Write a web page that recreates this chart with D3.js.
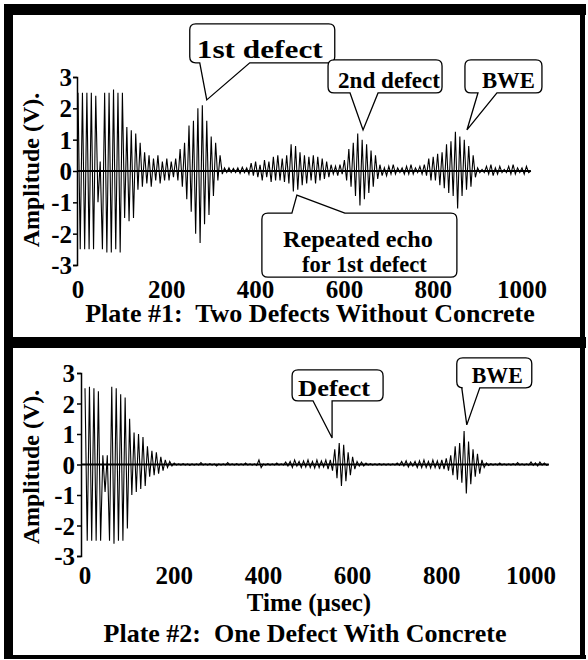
<!DOCTYPE html>
<html>
<head>
<meta charset="utf-8">
<script src="https://cdn.jsdelivr.net/npm/d3@7"></script>
<style>
body { margin: 0; background: #fff; }
text { font-family: "Liberation Serif", "Times New Roman", serif; font-weight: bold; fill: #000; white-space: pre; }
</style>
</head>
<body>
<svg id="chart" width="588" height="660"></svg>
<script>
const timeTicks = [0, 200, 400, 600, 800, 1000];
const ampTicks = [-3, -2, -1, 0, 1, 2, 3];
const sampleStep = 5; // usec between successive peaks

// peak amplitudes (V), one every 5 usec
const plate1Peaks = [
    2.5, -2.5, 2.5, -2.5, 2.5, -2.5, 2.5, -2.5, 2.4, -1.0,
    0.3, -2.5, 2.5, -2.6, 2.5, -2.6, 2.6, -2.5, 2.5, -2.6,
    2.5, -1.5, 1.4, -1.6, 1.3, -1.5, 1.2, -0.6, 0.9, -0.5,
    0.6, -0.4, 0.5, -0.5, 0.4, -0.3, 0.5, -0.4, 0.3, -0.3,
    0.4, -0.3, 0.3, -0.2, 0.4, -0.3, 0.7, -0.5, 0.9, -0.9,
    1.45, -1.3, 1.6, -2.0, 2.0, -2.3, 2.1, -1.7, 1.6, -1.4,
    1.1, -0.8, 0.9, -0.3, 0.5, -0.1, 0.1, -0.05, 0.1, -0.05,
    0.08, -0.05, 0.1, -0.08, 0.12, -0.05, 0.1, -0.1, 0.25, -0.15,
    0.3, -0.2, 0.2, -0.3, 0.35, -0.2, 0.3, -0.35, 0.45, -0.3,
    0.5, -0.3, 0.4, -0.35, 0.5, -0.4, 0.85, -0.65, 0.8, -0.6,
    0.6, -0.45, 0.5, -0.4, 0.45, -0.3, 0.5, -0.4, 0.45, -0.3,
    0.4, -0.25, 0.3, -0.2, 0.2, -0.1, 0.15, -0.15, 0.2, -0.1,
    0.35, -0.3, 0.7, -0.5, 0.9, -0.8, 1.2, -1.1, 1.0, -0.9,
    0.85, -0.7, 0.65, -0.5, 0.5, -0.25, 0.2, -0.15, 0.1, -0.15,
    0.15, -0.1, 0.2, -0.1, 0.1, -0.05, 0.1, -0.1, 0.15, -0.1,
    0.2, -0.1, 0.1, -0.05, 0.15, -0.1, 0.2, -0.15, 0.4, -0.3,
    0.45, -0.3, 0.55, -0.45, 0.6, -0.55, 0.85, -0.7, 0.95, -0.8,
    1.25, -1.2, 1.1, -0.8, 1.0, -0.6, 0.8, -0.5, 0.5, -0.2,
    0.1, -0.05, 0.05, -0.05, 0.15, -0.1, 0.2, -0.15, 0.1, -0.1,
    0.15, -0.05, 0.05, -0.05, 0.15, -0.1, 0.2, -0.1, 0.1, -0.05,
    0.1, -0.1, 0.15, -0.05, 0
];

const plate2Peaks = [
    2.5, -2.5, 2.55, -2.5, 2.5, -2.5, 2.4, -2.5, 0.3, -0.9,
    0.3, -2.5, 2.55, -2.6, 2.5, -2.5, 2.3, -2.5, 2.2, -2.1,
    1.5, -1.0, 1.05, -0.9, 1.0, -0.8, 0.9, -0.7, 0.6, -0.4,
    0.45, -0.35, 0.4, -0.3, 0.25, -0.2, 0.15, -0.1, 0.1, -0.05,
    0.05, -0.02, 0.02, -0.02, 0.03, -0.02, 0.02, -0.03, 0.02, -0.02,
    0.02, -0.02, 0.06, -0.02, 0.02, -0.02, 0.03, -0.02, 0.02, -0.05,
    0.02, -0.02, 0.02, -0.02, 0.06, -0.02, 0.02, -0.02, 0.03, -0.02,
    0.02, -0.02, 0.05, -0.02, 0.02, -0.02, 0.02, -0.03, 0.15, -0.1,
    0.02, -0.02, 0.03, -0.02, 0.02, -0.02, 0.05, -0.02, 0.02, -0.02,
    0.08, -0.05, 0.1, -0.1, 0.15, -0.05, 0.1, -0.1, 0.12, -0.08,
    0.15, -0.1, 0.1, -0.12, 0.15, -0.1, 0.12, -0.08, 0.15, -0.15,
    0.15, -0.2, 0.5, -0.45, 0.7, -0.7, 0.65, -0.55, 0.4, -0.35,
    0.25, -0.15, 0.1, -0.05, 0.08, -0.05, 0.05, -0.02, 0.03, -0.02,
    0.02, -0.02, 0.03, -0.02, 0.02, -0.02, 0.02, -0.02, 0.02, -0.02,
    0.05, -0.03, 0.1, -0.05, 0.12, -0.08, 0.08, -0.05, 0.1, -0.1,
    0.12, -0.1, 0.15, -0.1, 0.1, -0.12, 0.15, -0.1, 0.12, -0.15,
    0.15, -0.15, 0.2, -0.2, 0.3, -0.35, 0.6, -0.5, 0.7, -0.6,
    1.1, -0.95, 0.75, -0.65, 0.5, -0.4, 0.35, -0.3, 0.15, -0.1,
    0.05, -0.03, 0.03, -0.02, 0.02, -0.02, 0.05, -0.02, 0.02, -0.02,
    0.02, -0.02, 0.03, -0.02, 0.06, -0.02, 0.02, -0.02, 0.02, -0.02,
    0.08, -0.03, 0.05, -0.05, 0.08, -0.02, 0.05, -0.03, 0
];

const plate1Title = "Plate #1:  Two Defects Without Concrete";
const plate2Title = "Plate #2:  One Defect With Concrete";
const ampLabel = "Amplitude (V).";
const timeLabel = "Time (\u00b5sec)";

const svg = d3.select("#chart");

// frame
svg.append("rect").attr("x", 4).attr("y", 4).attr("width", 582).attr("height", 11);
svg.append("rect").attr("x", 4).attr("y", 4).attr("width", 9).attr("height", 655);
svg.append("rect").attr("x", 580).attr("y", 4).attr("width", 5).attr("height", 655);
svg.append("rect").attr("x", 4).attr("y", 337).attr("width", 582).attr("height", 11);
svg.append("rect").attr("x", 4).attr("y", 655).attr("width", 582).attr("height", 4);

// t/v: tip of the pointer in data units; everything else is pixels from the tip
const plate1Callouts = [
    { lines: ["1st defect"], t: 290, v: 2.27, size: 25, box: [-17, -76, 128, -37], base: [-7, 43], side: "bottom",
      text: [[53, -42, 126]] },
    { lines: ["2nd defect"], t: 642, v: 1.31, size: 23, box: [-35, -70, 79, -37], base: [-13, 15], side: "bottom",
      text: [[26, -42, 102]] },
    { lines: ["BWE"], t: 876, v: 1.31, size: 23, box: [-2, -70, 75, -37], base: [11, 30], side: "bottom",
      text: [[41.5, -42, 53]] },
    { lines: ["Repeated echo", "for 1st defect"], t: 493, v: -0.77, size: 23, box: [-35, 18, 160, 82], base: [-5, 48], side: "top",
      text: [[61, 52, 150], [67.5, 77, 125]] }
];
const plate2Callouts = [
    { lines: ["Defect"], t: 554, v: 0.87, size: 23, box: [-40, -68, 51, -37], base: [-19, 0], side: "bottom",
      text: [[2, -42, 72]] },
    { lines: ["BWE"], t: 856, v: 1.30, size: 23, box: [-10, -67, 65, -37], base: [-5, 13], side: "bottom",
      text: [[30.5, -42, 51]] }
];

const panels = [
    { peaks: plate1Peaks, xRange: [78, 522], yRange: [265, 77], axisGap: 1, tickPad: 1,
      tickY: 298, ampY: 170, title: plate1Title, titleX: 310, titleY: 322, xLabel: null, callouts: plate1Callouts },
    { peaks: plate2Peaks, xRange: [85, 531], yRange: [556, 373], axisGap: 4, tickPad: 2,
      tickY: 584, ampY: 467, title: plate2Title, titleX: 305, titleY: 642,
      xLabel: timeLabel, xLabelX: 309, xLabelY: 611, callouts: plate2Callouts }
];

const bubblePath = (c, tx, ty) => {
    const r = 6;
    const [x0, y0, x1, y1] = [tx + c.box[0], ty + c.box[1], tx + c.box[2], ty + c.box[3]];
    const b0 = tx + c.base[0], b1 = tx + c.base[1];
    const p = d3.path();
    if (c.side === "bottom") {
        p.moveTo(b0, y1);
        p.lineTo(tx, ty);
        p.lineTo(b1, y1);
        p.lineTo(x1 - r, y1);
        p.quadraticCurveTo(x1, y1, x1, y1 - r);
        p.lineTo(x1, y0 + r);
        p.quadraticCurveTo(x1, y0, x1 - r, y0);
        p.lineTo(x0 + r, y0);
        p.quadraticCurveTo(x0, y0, x0, y0 + r);
        p.lineTo(x0, y1 - r);
        p.quadraticCurveTo(x0, y1, x0 + r, y1);
    } else {
        p.moveTo(b1, y0);
        p.lineTo(tx, ty);
        p.lineTo(b0, y0);
        p.lineTo(x0 + r, y0);
        p.quadraticCurveTo(x0, y0, x0, y0 + r);
        p.lineTo(x0, y1 - r);
        p.quadraticCurveTo(x0, y1, x0 + r, y1);
        p.lineTo(x1 - r, y1);
        p.quadraticCurveTo(x1, y1, x1, y1 - r);
        p.lineTo(x1, y0 + r);
        p.quadraticCurveTo(x1, y0, x1 - r, y0);
    }
    p.closePath();
    return p.toString();
};

panels.forEach(panel => {
    const lastT = (panel.peaks.length - 1) * sampleStep;
    const x = d3.scaleLinear().domain([0, 1000]).range(panel.xRange);
    const y = d3.scaleLinear().domain([-3, 3]).range(panel.yRange);
    const axisX = panel.xRange[0] - panel.axisGap;

    const g = svg.append("g");

    // amplitude axis
    g.append("g")
        .attr("transform", `translate(${axisX},0)`)
        .call(d3.axisLeft(y)
            .tickValues(ampTicks)
            .tickFormat(d => String(d))
            .tickSize(4)
            .tickPadding(panel.tickPad)
            .tickSizeOuter(4))
        .call(a => a.attr("font-family", null))
        .call(a => a.select(".domain").attr("stroke-width", 1.5))
        .call(a => a.selectAll("line").attr("stroke-width", 1.5))
        .call(a => a.selectAll("text")
            .attr("font-size", 25)
            .attr("dy", "0.34em"));

    // time tick labels, no axis line
    g.selectAll(".tlabel")
        .data(timeTicks)
        .enter()
        .append("text")
        .attr("x", d => x(d))
        .attr("y", panel.tickY)
        .attr("text-anchor", "middle")
        .attr("font-size", 25)
        .text(d => d);

    // zero line
    g.append("line")
        .attr("x1", axisX).attr("x2", x(lastT))
        .attr("y1", y(0)).attr("y2", y(0))
        .attr("stroke", "#000").attr("stroke-width", 2);

    // waveform
    const line = d3.line()
        .x((d, i) => x(i * sampleStep))
        .y(d => y(d));
    g.append("path")
        .datum(panel.peaks)
        .attr("d", line)
        .attr("fill", "none")
        .attr("stroke", "#000")
        .attr("stroke-width", 1.1);

    // labels
    g.append("text")
        .attr("transform", `translate(39,${panel.ampY}) rotate(-90)`)
        .attr("text-anchor", "middle")
        .attr("font-size", 24)
        .text(ampLabel);

    if (panel.xLabel) {
        g.append("text")
            .attr("x", panel.xLabelX).attr("y", panel.xLabelY)
            .attr("text-anchor", "middle")
            .attr("font-size", 25)
            .text(panel.xLabel);
    }

    g.append("text")
        .attr("x", panel.titleX).attr("y", panel.titleY)
        .attr("text-anchor", "middle")
        .attr("font-size", 26)
        .text(panel.title);

    // callout bubbles
    panel.callouts.forEach(c => {
        const tx = x(c.t), ty = y(c.v);
        g.append("path")
            .attr("d", bubblePath(c, tx, ty))
            .attr("fill", "#fff")
            .attr("stroke", "#000")
            .attr("stroke-width", 1.3);
        c.lines.forEach((s, i) => {
            const [dx, dy, w] = c.text[i];
            g.append("text")
                .attr("x", tx + dx).attr("y", ty + dy)
                .attr("text-anchor", "middle")
                .attr("font-size", c.size)
                .attr("textLength", w)
                .attr("lengthAdjust", "spacingAndGlyphs")
                .text(s);
        });
    });
});
</script>
</body>
</html>
